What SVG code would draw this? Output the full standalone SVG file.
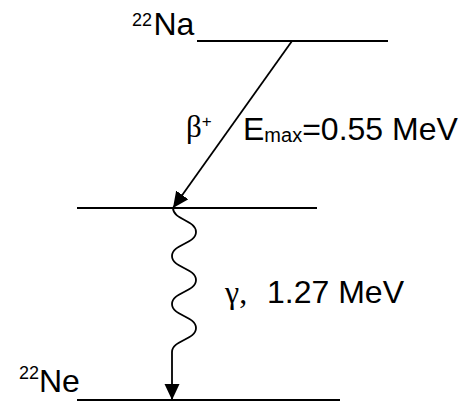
<svg xmlns="http://www.w3.org/2000/svg" width="466" height="403" viewBox="0 0 466 403">
<style>
.lvl{stroke:#000;stroke-width:2;fill:none}
.con{stroke:#000;stroke-width:1.8;fill:none}
.t{font-family:"Liberation Sans",Arial,sans-serif;fill:#000;font-size:32px}
.sup{font-family:"Liberation Sans",Arial,sans-serif;fill:#000;font-size:18px}
.g{font-family:"Liberation Serif","Times New Roman",serif;fill:#000}
</style>
<defs>
<marker id="ah" markerUnits="userSpaceOnUse" markerWidth="18" markerHeight="16" refX="16" refY="7.5" orient="auto">
<path d="M0,0 L16,7.5 L0,15 Z" fill="#000"/>
</marker>
</defs>
<rect width="466" height="403" fill="#fff"/>
<g id="na22">
<line class="lvl" x1="197" y1="41" x2="388" y2="41"/>
<text class="sup" x="132" y="25.5">22</text>
<text class="t" x="153.5" y="34.5">Na</text>
</g>
<g id="excited">
<line class="lvl" x1="77" y1="208" x2="317" y2="208"/>
</g>
<g id="ne22">
<line class="lvl" x1="77" y1="400" x2="340" y2="400"/>
<text class="sup" x="19" y="379">22</text>
<text class="t" x="39" y="392">Ne</text>
</g>
<g id="connectors">
<line class="con" x1="292" y1="41" x2="173" y2="208" marker-end="url(#ah)"/>
<path class="con" d="M173,208 C173,220 196,220 196,232 C196,244 172,244 172,256 C172,268 196,268 196,280 C196,292 172,292 172,304 C172,316 196,316 196,328 C196,340 172,340 172,352 L172,400" marker-end="url(#ah)"/>
</g>
<g id="labels">
<text class="g" x="186" y="137" font-size="31">β<tspan font-family="Liberation Sans,Arial,sans-serif" font-size="17" dy="-10">+</tspan></text>
<text class="t" x="243" y="139.5">E<tspan font-size="20" dy="2">max</tspan><tspan dy="-2">=0.55 MeV</tspan></text>
<text class="t" y="303"><tspan class="g" x="225">γ,</tspan><tspan x="267">1.27 MeV</tspan></text>
</g>
</svg>
